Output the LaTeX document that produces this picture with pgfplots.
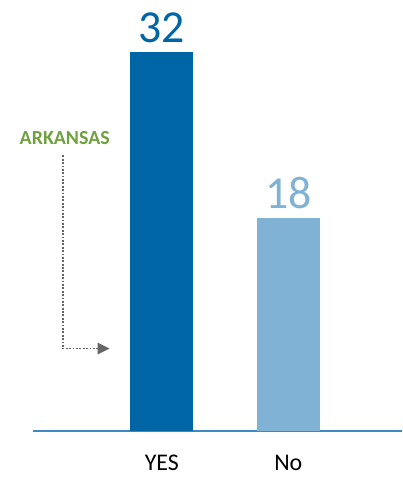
\documentclass[border=0pt]{standalone}
\usepackage{pgfplots}
\pgfplotsset{compat=1.18}
\usepackage{fontspec}
\setmainfont{Carlito}
\definecolor{darkblue}{HTML}{0065A4}
\definecolor{lightblue}{HTML}{7FB2D4}
\definecolor{axisblue}{HTML}{3D89C4}
\definecolor{arkgreen}{HTML}{6FA13F}
\definecolor{arrowgray}{HTML}{666666}
\begin{document}
\begin{tikzpicture}[x=1pt,y=1pt]
\begin{axis}[
  at={(33pt,0pt)}, anchor=south west,
  scale only axis, width=371pt, height=433pt,
  xmin=33, xmax=404, ymin=0, ymax=36.37,
  axis y line=none, axis x line*=bottom,
  x axis line style={color=axisblue, line width=1.5pt, -},
  xtick={162.5,289.5}, xticklabels={YES,No},
  major tick length=0pt,
  xticklabel style={font=\fontsize{24}{24}\selectfont, anchor=base, inner sep=0pt, yshift=-39pt},
  ytick=\empty,
  clip=false,
  ybar, bar width=63pt, bar shift=0pt,
  nodes near coords={\fontsize{46}{46}\selectfont\pgfmathprintnumber[assume math mode=true]{\pgfplotspointmeta}},
  every node near coord/.append style={anchor=base, yshift=9pt, inner sep=0pt},
]
\addplot[fill=darkblue, draw=none, nodes near coords style={text=darkblue}] coordinates {(162.5,32)};
\addplot[fill=lightblue, draw=none, nodes near coords style={text=lightblue}] coordinates {(289.5,18)};
\node[font=\bfseries\fontsize{20}{20}\selectfont, text=arkgreen, anchor=base] at (axis cs:65,{(433-145)/11.906}) {ARKANSAS};
\draw[arrowgray, line width=1.8pt, dash pattern=on 1.8pt off 1.6pt, line cap=butt] (axis cs:63,{(433-156)/11.906}) |- (axis cs:99,{(433-350)/11.906});
\fill[arrowgray] (axis cs:98,{(433-344)/11.906}) -- (axis cs:110,{(433-350)/11.906}) -- (axis cs:98,{(433-356)/11.906}) -- cycle;
\end{axis}
\pgfresetboundingbox
\path (0pt,-47pt) rectangle (404pt,433pt);
\end{tikzpicture}
\end{document}
